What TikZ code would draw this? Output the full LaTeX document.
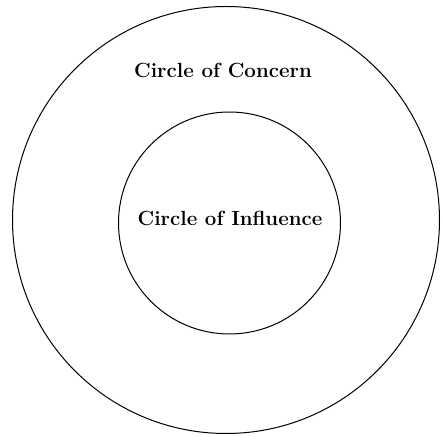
\documentclass[tikz,border=0pt]{standalone}
\usepackage{tikz}
\usetikzlibrary{positioning}

\begin{document}
\begin{tikzpicture}[x=1pt, y=1pt]
    \tikzset{
        ring/.style={
                circle, draw=black, line width=1pt, inner sep=0pt
            },
        ring label/.style={
                font=\fontsize{20.5}{24}\selectfont\bfseries, text=black
            }
    }

    \useasboundingbox (0, 0) rectangle (442, 436);

    % Concern (outer) and Influence (inner)
    \node[ring, minimum size=427pt] (concern) at (226, 216) {};
    \node[ring, minimum size=222pt] (influence) at (229.5, 213) {};

    \node[ring label] (concern label) at (223, 366) {Circle of Concern};
    \node[ring label] (influence label) at (230, 218) {Circle of Influence};
\end{tikzpicture}
\end{document}
